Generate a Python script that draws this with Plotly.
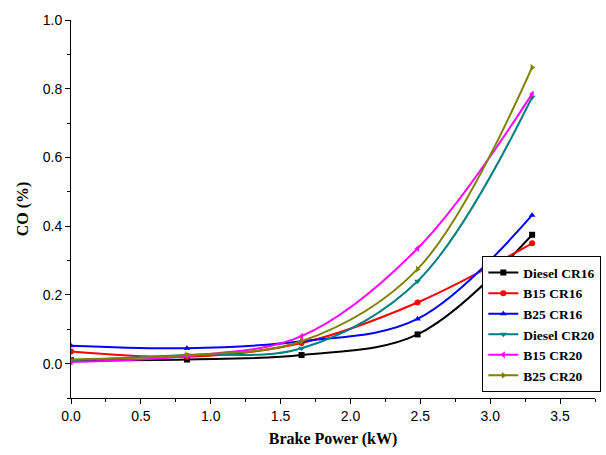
import plotly.graph_objects as go

power = [0, 0.83, 1.65, 2.48, 3.3]
names = ["Diesel CR16", "B15 CR16", "B25 CR16", "Diesel CR20", "B15 CR20", "B25 CR20"]
diesel_cr16 = [0.010, 0.012, 0.025, 0.085, 0.375]
b15_cr16 = [0.035, 0.020, 0.060, 0.178, 0.350]
b25_cr16 = [0.052, 0.045, 0.065, 0.130, 0.432]
diesel_cr20 = [0.010, 0.025, 0.045, 0.240, 0.775]
b15_cr20 = [0.005, 0.022, 0.080, 0.335, 0.785]
b25_cr20 = [0.012, 0.025, 0.065, 0.275, 0.862]
series = [diesel_cr16, b15_cr16, b25_cr16, diesel_cr20, b15_cr20, b25_cr20]
colors = ["#000000", "#ff0000", "#0000ff", "#008080", "#ff00ff", "#808000"]
symbols = ["square", "circle", "triangle-up", "triangle-down", "triangle-left", "triangle-right"]

fig = go.Figure()
for n, s, c, m in zip(names, series, colors, symbols):
    fig.add_trace(go.Scatter(x=power, y=s, name=n, mode="lines+markers",
                             line=dict(color=c, width=2, shape="spline", smoothing=1.0),
                             marker=dict(symbol=m, size=6, color=c)))

axis_common = dict(showline=True, linecolor="black", linewidth=1, ticks="outside",
                   ticklen=5, tickcolor="black", showgrid=False, zeroline=False,
                   tickfont=dict(family="Liberation Sans", size=14, color="black"),
                   mirror=False)
fig.update_xaxes(range=[0, 3.75], dtick=0.5, tickformat=".1f",
                 minor=dict(ticks="outside", dtick=0.25, ticklen=3, tickcolor="black"),
                 title=dict(text="<b>Brake Power (kW)</b>",
                            font=dict(family="Liberation Serif", size=16, color="black"),
                            standoff=10),
                 **axis_common)
fig.update_yaxes(range=[-0.1, 1.0], dtick=0.2, tick0=0, tickformat=".1f",
                 minor=dict(ticks="outside", dtick=0.1, ticklen=3, tickcolor="black"),
                 title=dict(text="<b>CO (%)</b>",
                            font=dict(family="Liberation Serif", size=16, color="black"),
                            standoff=10),
                 **axis_common)
fig.update_layout(width=606, height=455, margin=dict(l=71, r=5, t=20, b=57),
                  plot_bgcolor="white", paper_bgcolor="white",
                  legend=dict(x=0.785, y=0.015, xanchor="left", yanchor="bottom",
                              bgcolor="white", bordercolor="black", borderwidth=1,
                              font=dict(family="Liberation Serif", size=13.5, color="black",
                                        weight="bold"),
                              tracegroupgap=0, itemwidth=30))
fig.write_html("out.html")
